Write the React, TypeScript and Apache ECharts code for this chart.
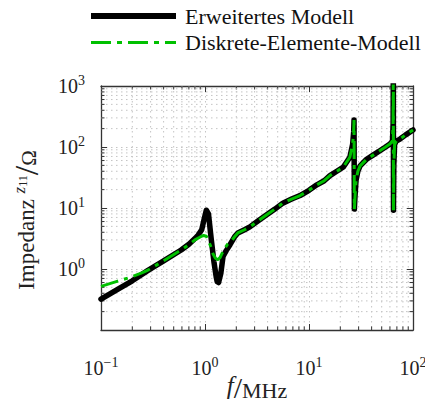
import React, { useEffect, useRef } from "react";
import * as echarts from "echarts";

const seriesNames = ["Erweitertes Modell", "Diskrete-Elemente-Modell"];

// Low-frequency part (MHz / Ohm), differs between the two models
const freqLowErw = [0.1, 0.15, 0.2, 0.283, 0.4, 0.59, 0.7, 0.8, 0.86, 0.93, 0.98, 1.03, 1.08, 1.15, 1.22, 1.28, 1.31, 1.35, 1.42, 1.49, 1.6, 1.74, 1.93, 2.07];
const zLowErw = [0.32, 0.48, 0.64, 0.95, 1.36, 2.05, 2.55, 3.15, 3.6, 4.4, 6.5, 9.2, 8.0, 3.0, 1.3, 0.75, 0.62, 0.6, 0.85, 1.6, 2.0, 2.5, 3.4, 3.9];
const freqLowDisk = [0.1, 0.14, 0.196, 0.25, 0.283, 0.4, 0.59, 0.686, 0.8, 0.9, 0.97, 1.03, 1.07, 1.13, 1.19, 1.26, 1.33, 1.4, 1.47, 1.55, 1.65, 1.8, 1.93, 2.07];
const zLowDisk = [0.52, 0.62, 0.74, 0.87, 0.96, 1.36, 2.05, 2.45, 3.0, 3.35, 3.55, 3.45, 3.0, 2.4, 1.8, 1.5, 1.42, 1.55, 1.85, 2.2, 2.55, 2.9, 3.4, 3.9];

// High-frequency part, common to both models
const freqHigh = [2.4, 2.7, 3.3, 3.95, 4.7, 5.6, 6.8, 8.2, 10, 11.9, 14, 15.9, 18.5, 21.4, 24.7, 26.3, 26.9, 27.1, 27.3, 27.6, 28.3, 29.5, 31, 35.8, 42, 48, 54, 60, 63.5, 64.4, 64.7, 64.9, 65.4, 66.5, 69, 75, 85, 100];
const zHigh = [4.4, 4.9, 6.3, 7.8, 9.6, 12, 14, 16, 19.5, 24, 28, 34, 40, 47, 68, 112, 180, 277, 9.6, 14, 28, 40, 49, 63, 75, 87, 99, 112, 125, 250, 3000, 9.2, 50, 110, 125, 135, 158, 190];

const xTicks = [0.1, 1, 10, 100];
const yTicks = [0.1, 1, 10, 100, 1000];
const minorSteps = [2, 3, 4, 5, 6, 7, 8, 9];

const FONT = "'Liberation Serif', 'DejaVu Serif', serif";
const AXIS_COLOR = "#333333";
const GRID_COLOR = "#c4c4c4";
const GREEN = "#00c000";
const TEXT = "#222";

function minorValues(ticks: number[]) {
  const out: number[] = [];
  for (let i = 0; i < ticks.length - 1; i++) {
    for (const m of minorSteps) out.push(ticks[i] * m);
  }
  return out;
}

function expLabel(v: number) {
  const e = Math.round(Math.log10(v));
  const s = e < 0 ? "\u2212" + -e : String(e);
  return "{b|10}{s|" + s + "}";
}

const labelRich = {
  b: { fontFamily: FONT, fontSize: 20, color: TEXT },
  s: { fontFamily: FONT, fontSize: 14, color: TEXT, padding: [0, 0, 11, 0] },
};

export default function App() {
  const ref = useRef<HTMLDivElement>(null);
  useEffect(() => {
    document.body.style.margin = "0";
    if (!ref.current) return;
    const chart = echarts.init(ref.current, undefined, { renderer: "svg" });
    const erwData = freqLowErw.map((f, i) => [f, zLowErw[i]]).concat(freqHigh.map((f, i) => [f, zHigh[i]]));
    const diskData = freqLowDisk.map((f, i) => [f, zLowDisk[i]]).concat(freqHigh.map((f, i) => [f, zHigh[i]]));
    const xMin = xTicks[0], xMax = xTicks[xTicks.length - 1];
    const yMin = yTicks[0], yMax = yTicks[yTicks.length - 1];
    const xMinor = minorValues(xTicks);
    const yMinor = minorValues(yTicks);

    const dotted = { color: GRID_COLOR, width: 1, type: [1.5, 3.5] as any };

    const option: any = {
      animation: false,
      backgroundColor: "#fff",
      grid: { left: 101, top: 86, width: 312, height: 244, containLabel: false, outerBoundsMode: "none" },
      legend: {
        orient: "vertical",
        left: 88,
        top: 4,
        padding: 0,
        itemWidth: 85,
        itemHeight: 14,
        itemGap: 2.5,
        itemStyle: { opacity: 0 },
        textStyle: { fontFamily: FONT, fontSize: 22, color: "#111", lineHeight: 24, padding: [0, 0, 0, 4] },
        data: [
          { name: seriesNames[0], lineStyle: { width: 6, color: "#000", cap: "butt" } },
          { name: seriesNames[1], lineStyle: { width: 3, color: GREEN, type: [20, 6, 5, 6] } },
        ],
      },
      xAxis: [
        {
          type: "log",
          logBase: 10,
          min: xMin,
          max: xMax,
          name: "{f|f}{sl|/}{n|MHz}",
          nameLocation: "middle",
          nameGap: 42,
          nameMoveOverlap: false,
          nameTextStyle: {
            rich: {
              f: { fontFamily: FONT, fontSize: 25, fontStyle: "italic", color: TEXT, padding: [0, 0, 4, 0] },
              sl: { fontFamily: FONT, fontSize: 30, color: TEXT },
              n: { fontFamily: FONT, fontSize: 22, color: TEXT, padding: [6, 0, 0, 0] },
            },
          },
          axisLine: { show: true, lineStyle: { color: AXIS_COLOR, width: 1.3 } },
          axisTick: { show: true, inside: true, length: 6, lineStyle: { color: AXIS_COLOR } },
          axisLabel: { formatter: expLabel, rich: labelRich, margin: 25 },
          splitLine: { show: true, lineStyle: dotted },
        },
        {
          type: "log",
          logBase: 10,
          min: xMin,
          max: xMax,
          position: "top",
          axisLine: { show: true, lineStyle: { color: AXIS_COLOR, width: 1.3 } },
          axisTick: { show: true, inside: true, length: 6, lineStyle: { color: AXIS_COLOR } },
          axisLabel: { show: false },
          splitLine: { show: false },
        },
      ],
      yAxis: [
        {
          type: "log",
          logBase: 10,
          min: yMin,
          max: yMax,
          name: "{n|Impedanz }{z|z}{sub|11}{sl|/}{o|\u03a9}",
          nameLocation: "middle",
          nameGap: 58,
          nameRotate: 90,
          nameMoveOverlap: false,
          nameTextStyle: {
            padding: [0, 24, 0, 0],
            rich: {
              n: { fontFamily: FONT, fontSize: 23, color: TEXT },
              z: { fontFamily: FONT, fontSize: 17, fontStyle: "italic", color: TEXT, padding: [0, 0, 13, 0] },
              sub: { fontFamily: FONT, fontSize: 12, color: TEXT, padding: [0, 0, 6, 0] },
              sl: { fontFamily: FONT, fontSize: 34, color: TEXT },
              o: { fontFamily: FONT, fontSize: 21, color: TEXT, padding: [6, 0, 0, 0] },
            },
          },
          axisLine: { show: true, lineStyle: { color: AXIS_COLOR, width: 1.3 } },
          axisTick: { show: true, inside: true, length: 6, lineStyle: { color: AXIS_COLOR } },
          axisLabel: {
            formatter: (v: number) => (Math.round(Math.log10(v)) === -1 ? "" : expLabel(v)),
            rich: labelRich,
            margin: 16,
          },
          splitLine: { show: true, lineStyle: dotted },
        },
        {
          type: "log",
          logBase: 10,
          min: yMin,
          max: yMax,
          position: "right",
          axisLine: { show: true, lineStyle: { color: AXIS_COLOR, width: 1.3 } },
          axisTick: { show: true, inside: true, length: 6, lineStyle: { color: AXIS_COLOR } },
          axisLabel: { show: false },
          splitLine: { show: false },
        },
      ],
      series: [
        {
          type: "custom",
          silent: true,
          xAxisIndex: 0,
          yAxisIndex: 0,
          z: 1,
          data: xMinor.map((v) => [v, 1]),
          renderItem: (params: any, api: any) => {
            const cs = params.coordSys;
            const x = api.coord([api.value(0), 1])[0];
            const top = cs.y, bot = cs.y + cs.height;
            return {
              type: "group",
              children: [
                { type: "line", shape: { x1: x, y1: top, x2: x, y2: bot }, style: { stroke: GRID_COLOR, lineWidth: 1, lineDash: [1.5, 3.5] } },
                { type: "line", shape: { x1: x, y1: bot, x2: x, y2: bot - 3.5 }, style: { stroke: AXIS_COLOR, lineWidth: 1 } },
                { type: "line", shape: { x1: x, y1: top, x2: x, y2: top + 3.5 }, style: { stroke: AXIS_COLOR, lineWidth: 1 } },
              ],
            };
          },
        },
        {
          type: "custom",
          silent: true,
          xAxisIndex: 0,
          yAxisIndex: 0,
          z: 1,
          data: yMinor.map((v) => [1, v]),
          renderItem: (params: any, api: any) => {
            const cs = params.coordSys;
            const y = api.coord([1, api.value(1)])[1];
            const left = cs.x, right = cs.x + cs.width;
            return {
              type: "group",
              children: [
                { type: "line", shape: { x1: left, y1: y, x2: right, y2: y }, style: { stroke: GRID_COLOR, lineWidth: 1, lineDash: [1.5, 3.5] } },
                { type: "line", shape: { x1: left, y1: y, x2: left + 3.5, y2: y }, style: { stroke: AXIS_COLOR, lineWidth: 1 } },
                { type: "line", shape: { x1: right, y1: y, x2: right - 3.5, y2: y }, style: { stroke: AXIS_COLOR, lineWidth: 1 } },
              ],
            };
          },
        },
        {
          name: seriesNames[0],
          type: "line",
          data: erwData,
          symbol: "none",
          z: 3,
          clip: true,
          itemStyle: { color: "#000" },
          lineStyle: { color: "#000", width: 5.5, cap: "round", join: "round" },
        },
        {
          name: seriesNames[1],
          type: "line",
          data: diskData,
          symbol: "none",
          z: 4,
          clip: true,
          itemStyle: { color: GREEN },
          lineStyle: { color: GREEN, width: 3, type: [18, 6, 4, 6] },
        },
      ],
    };
    chart.setOption(option);
    return () => chart.dispose();
  }, []);
  return <div ref={ref} style={{ width: 425, height: 409 }} />;
}
